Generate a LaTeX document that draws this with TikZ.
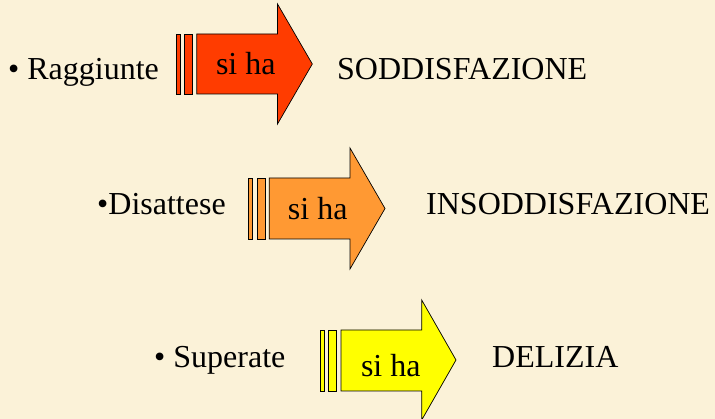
\documentclass[tikz,border=0pt]{standalone}
\usepackage{fontspec}
\setmainfont{Liberation Serif}
\usepackage{xcolor}
\usetikzlibrary{positioning}
\definecolor{parchment}{RGB}{251,242,216}
\definecolor{arrowred}{RGB}{255,60,0}
\definecolor{arrowora}{RGB}{255,153,51}
\definecolor{arrowyel}{RGB}{255,255,0}
\tikzset{
    label text/.style={
        anchor=base west,
        inner sep=0pt,
        font=\fontsize{32}{36}\selectfont
    },
    arrow text/.style={
        anchor=base,
        inner sep=0pt,
        font=\fontsize{32}{36}\selectfont
    },
    block/.style={
        draw=black,
        line width=0.7pt,
        line join=miter
    }
}

\begin{document}
\begin{tikzpicture}[x=1pt, y=-1pt]
    % Background
    \fill[parchment] (0,0) rectangle (715,419);
    \useasboundingbox (0,0) rectangle (715,419);

    % Arrows
    \draw[block, fill=arrowred] (176,34) rectangle (180.5,94);
    \draw[block, fill=arrowred] (184.7,34) rectangle (192.7,94);
    \draw[block, fill=arrowred] (196.8,34) -- (277.5,34) -- (277.5,4) -- (312.3,64)
        -- (277.5,124) -- (277.5,94) -- (196.8,94) -- cycle;

    \draw[block, fill=arrowora] (248.3,178) rectangle (252.8,239);
    \draw[block, fill=arrowora] (257,178) rectangle (265,239);
    \draw[block, fill=arrowora] (269.2,178) -- (350,178) -- (350,148) -- (385,208.5)
        -- (350,269) -- (350,239) -- (269.2,239) -- cycle;

    \draw[block, fill=arrowyel] (320,330) rectangle (324.5,391);
    \draw[block, fill=arrowyel] (328.7,330) rectangle (336.7,391);
    \draw[block, fill=arrowyel] (341,330) -- (421.7,330) -- (421.7,300) -- (456,360)
        -- (421.7,420) -- (421.7,391) -- (341,391) -- cycle;

    % Text in the arrows
    \node[arrow text] (siha1) at (245.8,75) {si ha};
    \node[arrow text] (siha2) at (317.7,220) {si ha};
    \node[arrow text] (siha3) at (390.8,376.7) {si ha};

    % Labels
    \node[label text] (rag) at (8,79.5) {• Raggiunte};
    \node[label text] (sod) at (337,79.5) {SODDISFAZIONE};
    \node[label text] (dis) at (97,215) {•Disattese};
    \node[label text] (insod) at (426,215) {INSODDISFAZIONE};
    \node[label text] (sup) at (154,368) {• Superate};
    \node[label text] (del) at (492,368) {DELIZIA};
\end{tikzpicture}
\end{document}
